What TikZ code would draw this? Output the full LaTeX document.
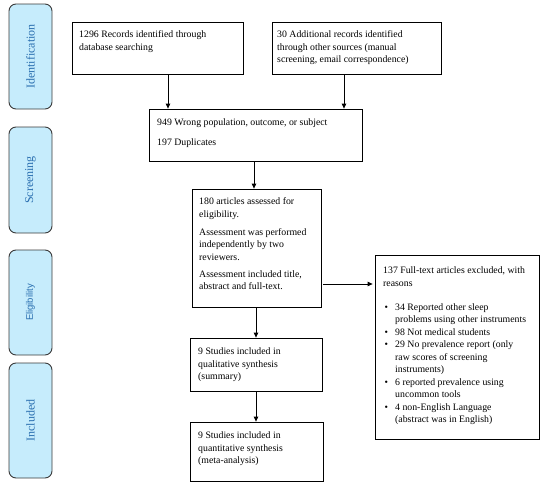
\documentclass[tikz,border=0pt]{standalone}
\usepackage{fontspec}
\setmainfont{Liberation Serif}
\newfontfamily\labsans{Liberation Sans}
\usetikzlibrary{arrows.meta,calc}
\definecolor{stagefill}{HTML}{C6ECFC}
\definecolor{stagetext}{HTML}{2A6FB0}
\definecolor{stageline}{HTML}{3A3A3A}
\newcommand{\bulletmark}{\hspace*{1.5pt}\makebox[10.5pt][l]{\textbullet}}
\begin{document}
\begin{tikzpicture}[x=1pt,y=-1pt,
  stage/.style={draw=stageline, line width=0.9pt, fill=stagefill, rounded corners=7pt, minimum width=43pt, inner sep=0pt},
  stagelab/.style={rotate=90, text=stagetext, font=\fontsize{12}{14}\selectfont, inner sep=0pt},
  box/.style={draw=black, line width=0.8pt, inner sep=0pt},
  txt/.style={anchor=base west, inner sep=0pt, font=\fontsize{9.8}{12.5}\selectfont},
  arr/.style={-{Triangle[length=5pt,width=4.5pt]}, line width=0.8pt}]
\useasboundingbox (0,0) rectangle (550,485);

% stage labels
\node[stage, minimum height=105pt] (sid) at (30.5,56.5) {};
\node[stagelab] (tid) at (sid.center) {Identification};
\node[stage, minimum height=106pt] (sscr) at (30.5,180) {};
\node[stagelab] (tscr) at (sscr.center) {Screening};
\node[stage, minimum height=105pt] (seli) at (30.5,302.5) {};
\node[stagelab, font=\labsans\fontsize{9.5}{11}\selectfont] (teli) at (seli.center) {Eligibility};
\node[stage, minimum height=115pt] (sinc) at (30.5,420.5) {};
\node[stagelab] (tinc) at (sinc.center) {Included};

% boxes
\node[box, minimum width=171pt, minimum height=52pt] (b1) at (157.5,48) {};
\node[box, minimum width=169pt, minimum height=52pt] (b2) at (356.5,48) {};
\node[box, minimum width=213pt, minimum height=52pt] (b3) at (255.5,135) {};
\node[box, minimum width=129pt, minimum height=118pt] (b4) at (256.5,248) {};
\node[box, minimum width=132pt, minimum height=53pt] (b5) at (256,364.5) {};
\node[box, minimum width=133pt, minimum height=59pt] (b6) at (256.5,451.5) {};
\node[box, minimum width=164pt, minimum height=184pt] (b7) at (457,347) {};

% texts
\node[txt] (t1) at (79,37.5) {\parbox[t]{160pt}{\raggedright 1296 Records identified through\\database searching}};
\node[txt] (t2) at (277,37.5) {\parbox[t]{160pt}{\raggedright 30 Additional records identified\\through other sources (manual\\screening, email correspondence)}};
\node[txt] (t3) at (157,125.5) {\parbox[t]{200pt}{\raggedright 949 Wrong population, outcome, or subject\\[7pt]197 Duplicates}};
\node[txt] (t4) at (199,204.5) {\parbox[t]{115pt}{\raggedright 180 articles assessed for\\eligibility.\\[5.5pt]Assessment was performed\\independently by two\\reviewers.\\[4.5pt]Assessment included title,\\abstract and full-text.}};
\node[txt] (t5) at (198,354.5) {\parbox[t]{120pt}{\raggedright 9 Studies included in\\qualitative synthesis\\(summary)}};
\node[txt] (t6) at (198,438.5) {\parbox[t]{120pt}{\raggedright 9 Studies included in\\quantitative synthesis\\(meta-analysis)}};
\node[txt] (t7) at (383,273.5) {\parbox[t]{155pt}{\raggedright 137 Full-text articles excluded, with\\reasons\\[11.5pt]%
\bulletmark 34 Reported other sleep\\
\hspace*{12pt}problems using other instruments\\
\bulletmark 98 Not medical students\\
\bulletmark 29 No prevalence report (only\\
\hspace*{12pt}raw scores of screening\\
\hspace*{12pt}instruments)\\
\bulletmark 6 reported prevalence using\\
\hspace*{12pt}uncommon tools\\
\bulletmark 4 non-English Language\\
\hspace*{12pt}(abstract was in English)}};

% connectors
\coordinate (c1) at (168,0);
\coordinate (c2) at (344,0);
\coordinate (c3) at (254,0);
\coordinate (c4) at (256,0);
\coordinate (c6) at (0,284);
\draw[arr] (b1.south -| c1) -- (b3.north -| c1);
\draw[arr] (b2.south -| c2) -- (b3.north -| c2);
\draw[arr] (b3.south -| c3) -- (b4.north -| c3);
\draw[arr] (b4.south -| c4) -- (b5.north -| c4);
\draw[arr] (b5.south -| c4) -- (b6.north -| c4);
\draw[arr] ($(b4.east |- c6)+(2,0)$) -- ($(b7.west |- c6)+(-2,0)$);
\end{tikzpicture}
\end{document}
